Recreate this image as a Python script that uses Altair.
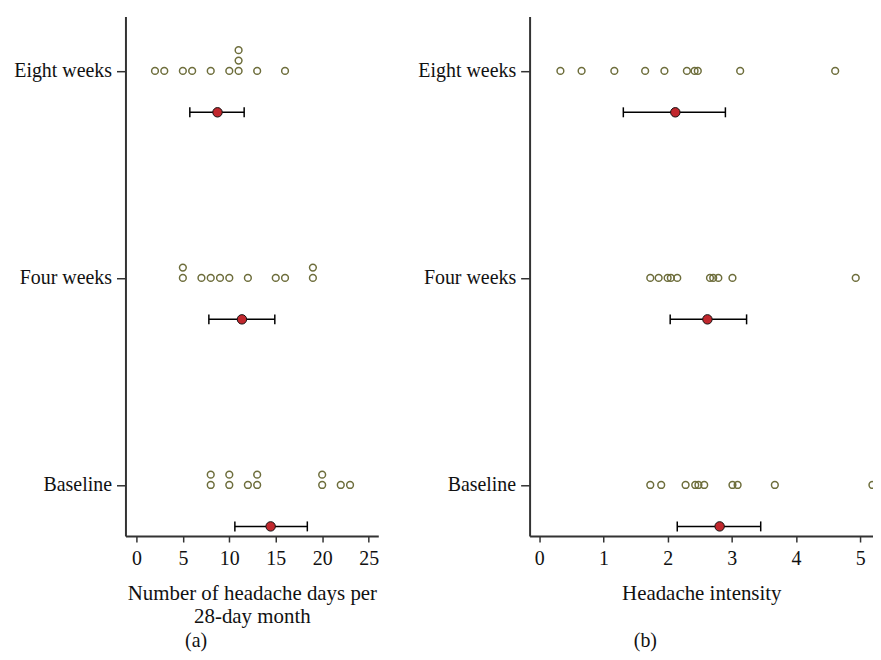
import altair as alt
import pandas as pd

groups = ["Baseline", "Four weeks", "Eight weeks"]
levels = [0, 1, 2]

# Panel (a): headache days per 28-day month
days_baseline = [8, 8, 10, 10, 12, 13, 13, 20, 20, 22, 23]
days_four = [5, 5, 7, 8, 9, 10, 12, 15, 16, 19, 19]
days_eight = [2, 3, 5, 6, 8, 10, 11, 11, 11, 13, 16]
days_mean = [14.45, 11.36, 8.73]
days_lo = [10.6, 7.8, 5.75]
days_hi = [18.4, 14.9, 11.6]

# Panel (b): headache intensity
int_baseline = [1.73, 1.90, 2.28, 2.43, 2.48, 2.57, 3.01, 3.09, 3.67, 5.19]
int_four = [1.73, 1.86, 2.00, 2.05, 2.15, 2.66, 2.71, 2.79, 3.01, 4.93]
int_eight = [0.33, 0.66, 1.17, 1.65, 1.95, 2.30, 2.42, 2.47, 3.13, 4.61]
int_mean = [2.81, 2.62, 2.12]
int_lo = [2.15, 2.04, 1.31]
int_hi = [3.45, 3.23, 2.90]

FONT = "Liberation Serif"
OLIVE = "#6e6e3c"
RED = "#c1272d"
AXC = "#333333"


def points_df(series):
    rows = []
    for g, lv, vals in zip(groups, levels, series):
        for v in vals:
            rows.append({"group": g, "level": lv, "value": v})
    return pd.DataFrame(rows)


def summary_df(mean, lo, hi):
    return pd.DataFrame({"group": groups, "level": levels, "mean": mean, "lo": lo, "hi": hi})


label_expr = " : ".join(
    [f"datum.value == {lv} ? '{g}'" for g, lv in zip(groups[:-1], levels[:-1])]
) + f" : '{groups[-1]}'"

yscale = alt.Scale(domain=[-0.2466, 2.263], nice=False, zero=False)
yaxis = alt.Axis(
    values=levels, labelExpr=label_expr, grid=False, title=None,
    tickSize=9, tickWidth=1.5, tickColor=AXC, domainColor=AXC, domainWidth=2,
    labelFont=FONT, labelFontSize=20, labelColor="#111", labelPadding=5,
)


def panel(pts, summ, domain, ticks, xtitle, width, tag, tag_offset):
    xscale = alt.Scale(domain=domain, nice=False, zero=False)
    xaxis = alt.Axis(
        values=ticks, grid=False, title=xtitle, format="d",
        tickSize=6, tickWidth=1.5, tickColor=AXC, domainColor=AXC, domainWidth=2,
        labelFont=FONT, labelFontSize=20, labelColor="#111", labelPadding=7,
        titleFont=FONT, titleFontSize=21, titleFontWeight="normal", titleColor="#111",
        titlePadding=14, titleLineHeight=23,
    )
    base = alt.Chart(pts)
    dots = base.transform_window(
        k="row_number()", groupby=["group", "value"]
    ).transform_calculate(
        ypos="datum.level + 0.05 * (datum.k - 1)"
    ).mark_point(
        shape="circle", filled=False, size=46, stroke=OLIVE, strokeWidth=1.5, opacity=1,
        clip=True,
    ).encode(
        x=alt.X("value:Q", scale=xscale, axis=xaxis),
        y=alt.Y("ypos:Q", scale=yscale, axis=yaxis),
    )
    sb = alt.Chart(summ).transform_calculate(ym="datum.level - 0.2")
    rule = sb.mark_rule(color="black", strokeWidth=1.5).encode(
        x=alt.X("lo:Q", scale=xscale, axis=xaxis), x2="hi:Q",
        y=alt.Y("ym:Q", scale=yscale, axis=yaxis),
    )
    cap_lo = sb.mark_tick(orient="vertical", size=10, thickness=1.5, color="black", opacity=1).encode(
        x=alt.X("lo:Q", scale=xscale, axis=xaxis),
        y=alt.Y("ym:Q", scale=yscale, axis=yaxis),
    )
    cap_hi = sb.mark_tick(orient="vertical", size=10, thickness=1.5, color="black", opacity=1).encode(
        x=alt.X("hi:Q", scale=xscale, axis=xaxis),
        y=alt.Y("ym:Q", scale=yscale, axis=yaxis),
    )
    mean = sb.mark_point(
        shape="circle", filled=True, size=90, fill=RED, stroke="#111", strokeWidth=1, opacity=1
    ).encode(
        x=alt.X("mean:Q", scale=xscale, axis=xaxis),
        y=alt.Y("ym:Q", scale=yscale, axis=yaxis),
    )
    return alt.layer(dots, rule, cap_lo, cap_hi, mean).properties(
        width=width, height=522,
        title=alt.TitleParams(
            tag, orient="bottom", anchor="middle", frame="bounds",
            font=FONT, fontSize=20, fontWeight="normal", color="#111", offset=tag_offset,
        ),
    )


pa = panel(
    points_df([days_baseline, days_four, days_eight]),
    summary_df(days_mean, days_lo, days_hi),
    [-1.18, 26.04], [0, 5, 10, 15, 20, 25],
    ["Number of headache days per", "28-day month"], 254, "(a)", 4,
)
pb = panel(
    points_df([int_baseline, int_four, int_eight]),
    summary_df(int_mean, int_lo, int_hi),
    [-0.15, 5.199], [0, 1, 2, 3, 4, 5],
    "Headache intensity", 345, "(b)", 27,
)

chart = alt.hconcat(pa, pb, spacing=152, bounds="flush").properties(
    padding={"left": 5, "top": 7, "right": 0, "bottom": 0}
).configure(background="white").configure_view(stroke=None)

chart.save("out.html", embed_options={"renderer": "svg", "actions": False})
